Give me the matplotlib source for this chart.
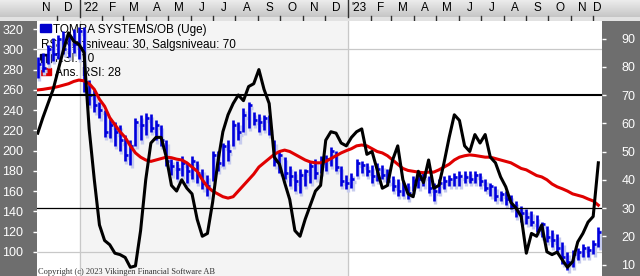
import matplotlib
matplotlib.use('Agg')
import matplotlib.pyplot as plt
import matplotlib.dates as mdates
import numpy as np
import pandas as pd

# ugentlige data, TOMRA SYSTEMS/OB
weeks = pd.date_range('2021-11-05', periods=110, freq='7D')

high = [292, 296, 304, 311, 314, 318, 316, 320, 322, 322,
        270, 260, 248, 240, 232, 228, 225, 215, 210, 232,
        235, 237, 236, 230, 225, 210, 192, 190, 195, 188,
        195, 190, 182, 176, 200, 200, 208, 210, 230, 228,
        242, 248, 238, 236, 235, 235, 210, 200, 194, 185,
        180, 182, 182, 190, 192, 195, 196, 204, 200, 185,
        176, 178, 192, 190, 188, 186, 188, 186, 182, 175,
        172, 170, 168, 175, 176, 178, 175, 168, 172, 175,
        176, 178, 180, 180, 180, 180, 178, 172, 168, 165,
        160, 160, 156, 150, 145, 142, 140, 136, 130, 126,
        122, 118, 110, 100, 102, 104, 108, 106, 112, 125]

low = [272, 278, 285, 288, 290, 295, 292, 296, 290, 258,
       245, 238, 232, 213, 212, 205, 200, 190, 186, 205,
       210, 215, 218, 210, 205, 185, 176, 172, 175, 168,
       172, 168, 162, 155, 170, 180, 185, 190, 205, 210,
       218, 222, 225, 218, 220, 215, 185, 178, 172, 165,
       160, 158, 165, 168, 172, 178, 180, 185, 180, 165,
       162, 163, 175, 178, 175, 168, 170, 172, 168, 160,
       155, 155, 152, 160, 163, 165, 158, 150, 158, 162,
       165, 165, 165, 168, 168, 168, 165, 160, 155, 150,
       150, 146, 142, 135, 130, 128, 126, 120, 115, 110,
       105, 100, 88, 82, 85, 92, 95, 95, 98, 105]

close = [285, 282, 300, 295, 310, 300, 312, 305, 318, 262,
         255, 245, 240, 218, 225, 218, 210, 196, 205, 228,
         225, 232, 222, 225, 210, 190, 185, 182, 188, 180,
         190, 178, 168, 165, 196, 188, 205, 200, 225, 218,
         235, 245, 230, 228, 232, 222, 190, 196, 178, 175,
         170, 176, 180, 185, 178, 188, 192, 200, 184, 170,
         168, 172, 188, 186, 180, 175, 182, 176, 170, 165,
         160, 165, 158, 170, 172, 175, 163, 160, 168, 170,
         172, 174, 175, 174, 172, 176, 170, 163, 165, 155,
         157, 152, 145, 140, 138, 135, 130, 122, 128, 115,
         112, 104, 95, 90, 98, 100, 104, 102, 108, 120]

rsi = [56.5, 62, 67, 72, 79, 86, 92, 89, 88, 85,
       58, 40, 24, 18.5, 17, 14, 13.5, 12.5, 9, 9.5,
       22, 40, 53, 55, 55, 48, 38, 36, 40, 37,
       35, 26, 20, 21, 32, 46, 57, 63, 67, 70,
       68, 73, 74, 79, 72, 67, 48, 45.5, 39, 33,
       22, 20, 26, 31, 36, 38, 54, 57, 56.5, 53,
       52, 55, 57, 58, 49, 50, 43.5, 37, 38, 47,
       52, 40, 35, 34, 43, 39, 47, 37, 38, 46,
       55, 63, 61, 52, 50, 56, 53, 56, 48, 46,
       41, 37.5, 32, 30, 27, 14, 21, 20, 24, 14.5,
       13.5, 14.4, 11.6, 9, 11, 18, 21, 25, 27, 46]

rsi_avg = [71.8, 72, 72.3, 72.6, 73, 73.5, 74, 74.8, 75.3, 75,
           74, 72, 68.5, 66, 62, 59.5, 57, 55, 52, 49.5,
           48, 47, 46.5, 47, 47.5, 48, 47.8, 47.3, 47, 46,
           44.5, 43, 40, 37.5, 36, 35, 34, 33.5, 34, 36,
           38, 40, 42, 44.5, 46, 47.5, 49, 50, 50.5, 50,
           49, 48, 47, 46.3, 46, 46, 46.5, 47.5, 48.5, 49.5,
           50.3, 51, 52, 52.3, 52, 51, 50, 49.5, 48.5, 47,
           45.5, 44, 43.3, 43, 42.7, 42.5, 42.7, 42.7, 43.5, 44.5,
           45.5, 47, 48, 48.5, 48.8, 48.6, 48.3, 48, 48, 47.5,
           47, 46.5, 46, 45, 44, 43.5, 42.5, 41.5, 41, 40,
           38.5, 37.5, 36.8, 36, 35, 34.5, 34, 33.2, 32.5, 31]

price_ticks = [100, 120, 140, 160, 180, 200, 220, 240, 260, 280, 300, 320]
rsi_ticks = [10, 20, 30, 40, 50, 60, 70, 80, 90]
buy_level = 30
sell_level = 70

plt.rcParams['font.family'] = ['Liberation Sans', 'DejaVu Sans']

W, H = 640, 276


def px(x0, y0, w, h):
    # pixelboks (fra toppen) -> figurkoordinater
    return [x0 / W, 1 - (y0 + h) / H, w / W, h / H]


def fx(x, y):
    return x / W, 1 - y / H


fig = plt.figure(figsize=(6.4, 2.76), dpi=100)
fig.patch.set_facecolor('#e2e2e2')

# topbjælke med gradient
hdr_bg = fig.add_axes(px(0, 0, 640, 17), zorder=-2)
grad = np.linspace(0, 1, 50).reshape(-1, 1)
hdr_bg.imshow(grad, aspect='auto', cmap=matplotlib.colors.LinearSegmentedColormap.from_list(
    'hdr', ['#ececec', '#c6c6c6']), extent=[0, 1, 0, 1])
hdr_bg.set_axis_off()

# grå sidepaneler
for box in [px(0, 21, 37, 255), px(602, 21, 38, 255)]:
    side = fig.add_axes(box, zorder=-2)
    side.set_facecolor('#6e6e6e')
    side.set_xticks([])
    side.set_yticks([])
    for s in side.spines.values():
        s.set_visible(False)

xd = mdates.date2num(weeks)
x0, x1 = xd[0] - 1, xd[-1] + 5

ax = fig.add_axes(px(37, 21, 565, 255))
ax.set_facecolor('white')
ax.set_xlim(x0, x1)
ax.set_ylim(76.3, 327.9)

# baggrund og gitter
y22 = mdates.date2num(pd.Timestamp('2022-01-01'))
y23 = mdates.date2num(pd.Timestamp('2023-01-01'))
ax.axvspan(y22, y23, color='#f4f4f4', zorder=0)
for yl in [100, 300]:
    ax.axhline(yl, color='#c8c8c8', lw=0.9, zorder=0.2)
for xl in [y22, y23]:
    ax.axvline(xl, color='#c8c8c8', lw=0.9, zorder=0.2)

# signaturforklaring (bag kurserne)
ax.add_patch(matplotlib.patches.Rectangle(fx(40, 32), 11 / W, 8 / H, transform=fig.transFigure,
                                          color='#0000cc', zorder=0.5))
ax.add_patch(matplotlib.patches.Rectangle(fx(40, 62), 11 / W, 8 / H, transform=fig.transFigure,
                                          color='#000033', zorder=0.5))
ax.add_patch(matplotlib.patches.Rectangle(fx(40, 75), 11 / W, 7 / H, transform=fig.transFigure,
                                          color='#e00000', zorder=0.5))
leg = dict(transform=fig.transFigure, fontsize=8.5, color='black', zorder=0.6, va='baseline')
ax.text(*fx(53, 33), 'TOMRA SYSTEMS/OB (Uge)', **leg)
ax.text(*fx(41, 48), 'RSI Købsniveau: 30, Salgsniveau: 70', **leg)
ax.text(*fx(55, 62), 'RSI: 10', **leg)
ax.text(*fx(55, 76), 'Ans. RSI: 28', **leg)

# ugebjælker med skygge
sx, sy = 1.8, -3
ax.vlines(xd + sx, np.array(low) + sy, np.array(high) + sy, color='#c6cbee', lw=2.4, zorder=1)
ax.hlines(np.array(close) + sy, xd + sx, xd + sx + 4, color='#c6cbee', lw=2.4, zorder=1)
ax.vlines(xd, low, high, color='#0000dd', lw=1.9, zorder=2)
ax.hlines(close, xd, xd + 4, color='#0000dd', lw=1.9, zorder=2)

ax.set_yticks(price_ticks)
ax.set_yticklabels([str(v) for v in price_ticks])
ax.tick_params(axis='y', colors='white', labelcolor='white', length=3, width=1,
               pad=7, labelsize=9)
ax.set_xticks([])
for s in ax.spines.values():
    s.set_visible(False)

# RSI på højre akse
ax2 = ax.twinx()
ax2.set_ylim(5.93, 96.2)
ax2.axhline(sell_level, color='black', lw=1.5, zorder=3)
ax2.axhline(buy_level, color='black', lw=0.9, zorder=3)
ax2.plot(xd, rsi_avg, color='#e00000', lw=2.2, zorder=4)
ax2.plot(xd, rsi, color='black', lw=2.2, zorder=5)
ax2.set_yticks(rsi_ticks)
ax2.set_yticklabels([str(v) for v in rsi_ticks])
ax2.tick_params(axis='y', colors='white', labelcolor='white', length=3, width=1,
                pad=11, labelsize=9)
for s in ax2.spines.values():
    s.set_visible(False)

ax.text(*fx(38, 274), 'Copyright (c) 2023 Vikingen Financial Software AB', transform=fig.transFigure,
        fontsize=6, family=['Liberation Serif', 'DejaVu Serif'], color='#333333', zorder=6,
        va='baseline')

# månedsbjælke
hdr = fig.add_axes(px(37, 0, 565, 21))
hdr.patch.set_alpha(0)
hdr.set_xlim(x0, x1)
hdr.set_ylim(0, 21)
hdr.set_axis_off()
months = pd.date_range('2021-11-01', '2023-12-01', freq='MS')
names = {1: 'J', 2: 'F', 3: 'M', 4: 'A', 5: 'M', 6: 'J', 7: 'J', 8: 'A', 9: 'S', 10: 'O', 11: 'N', 12: 'D'}
for m in months:
    ms = mdates.date2num(m)
    me = min(mdates.date2num(m + pd.offsets.MonthBegin(1)), x1)
    lab = "'" + str(m.year)[2:] if m.month == 1 else names[m.month]
    if m.month == 1:
        hdr.plot([ms, ms], [4, 21], color='#303030', lw=1)
    elif ms > x0:
        hdr.plot([ms, ms], [1, 5], color='#303030', lw=1)
    hdr.text((ms + me) / 2, 13, lab, ha='center', va='center', fontsize=8.5, color='black')

fig.savefig('out.png', dpi=100)
